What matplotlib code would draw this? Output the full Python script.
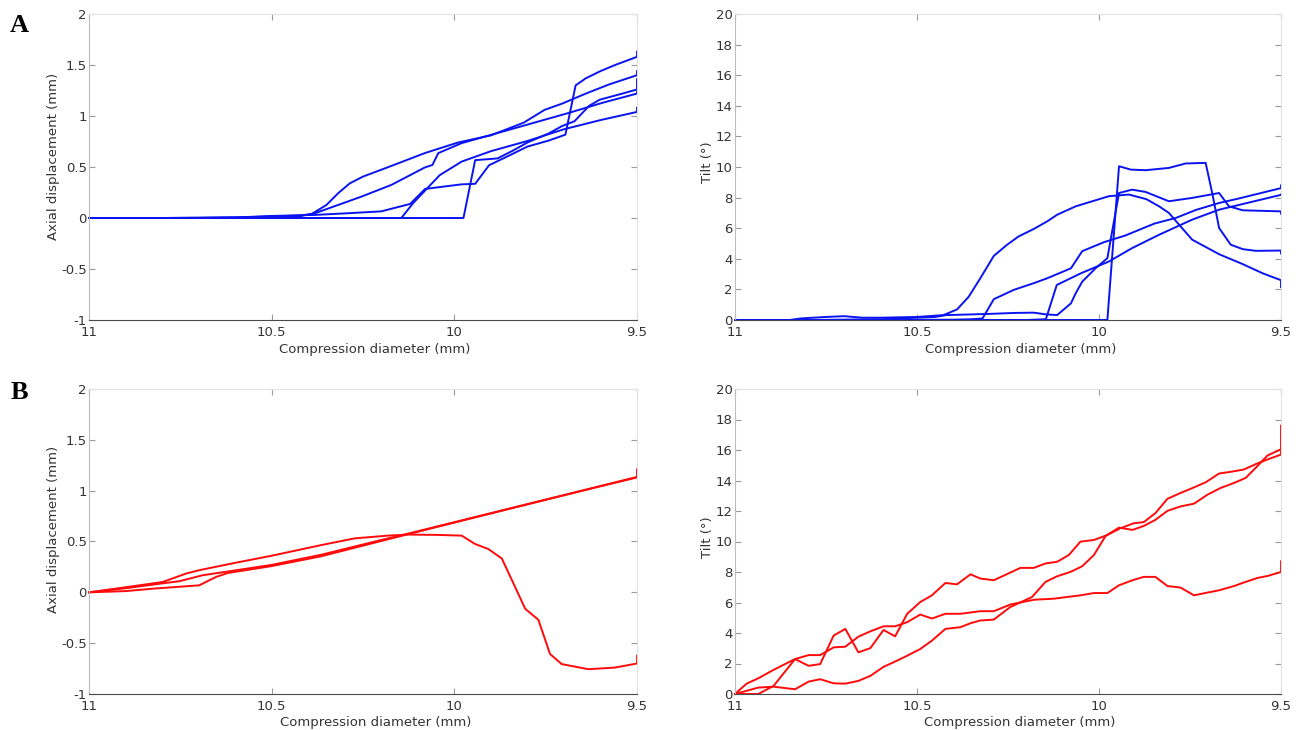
import matplotlib
matplotlib.use("Agg")
import matplotlib.pyplot as plt

# ---------------- data ----------------
x_ticks = [11, 10.5, 10, 9.5]
x_tick_labels = ["11", "10.5", "10", "9.5"]
ax_yticks = [-1, -0.5, 0, 0.5, 1, 1.5, 2]
ax_ytick_labels = ["-1", "-0.5", "0", "0.5", "1", "1.5", "2"]
tilt_yticks = [0, 2, 4, 6, 8, 10, 12, 14, 16, 18, 20]
tilt_ytick_labels = ["0", "2", "4", "6", "8", "10", "12", "14", "16", "18", "20"]

# Panel A - axial displacement (blue)
a1_x = [11.0, 10.8, 10.6, 10.5, 10.42, 10.39, 10.35, 10.318, 10.286, 10.25, 10.172, 10.081, 9.99, 9.9, 9.81, 9.753, 9.706, 9.64, 9.576, 9.5, 9.5]
a1_y = [0.0, 0.0, 0.005, 0.015, 0.025, 0.04, 0.128, 0.243, 0.34, 0.406, 0.511, 0.636, 0.74, 0.81, 0.935, 1.06, 1.12, 1.22, 1.31, 1.40, 1.44]
a2_x = [11.0, 10.7, 10.5, 10.42, 10.382, 10.254, 10.172, 10.081, 10.06, 10.044, 9.98, 9.855, 9.687, 9.594, 9.5, 9.5]
a2_y = [0.0, 0.0, 0.01, 0.02, 0.046, 0.21, 0.325, 0.495, 0.52, 0.636, 0.734, 0.86, 1.03, 1.13, 1.22, 1.24]
a3_x = [11.0, 10.8, 10.6, 10.5, 10.383, 10.3, 10.2, 10.121, 10.08, 9.98, 9.943, 9.905, 9.857, 9.80, 9.741, 9.696, 9.668, 9.64, 9.60, 9.56, 9.5, 9.5]
a3_y = [0.0, 0.0, 0.005, 0.02, 0.03, 0.045, 0.065, 0.138, 0.285, 0.33, 0.335, 0.517, 0.60, 0.70, 0.76, 0.817, 1.30, 1.37, 1.44, 1.50, 1.58, 1.63]
a4_x = [11.0, 10.6, 10.3, 10.145, 10.113, 10.04, 9.98, 9.9, 9.8, 9.7, 9.6, 9.5, 9.5]
a4_y = [0.0, 0.0, 0.0, 0.0, 0.145, 0.42, 0.553, 0.655, 0.755, 0.87, 0.96, 1.04, 1.08]
a5_x = [11.0, 10.6, 10.2, 9.975, 9.943, 9.882, 9.84, 9.80, 9.741, 9.706, 9.671, 9.631, 9.602, 9.55, 9.5, 9.5]
a5_y = [0.0, 0.0, 0.0, 0.0, 0.567, 0.584, 0.66, 0.74, 0.83, 0.90, 0.949, 1.10, 1.16, 1.21, 1.26, 1.36]

# Panel A - tilt (blue)
t1_x = [11.0, 10.85, 10.82, 10.75, 10.7, 10.65, 10.6, 10.5, 10.427, 10.39, 10.358, 10.326, 10.289, 10.253, 10.221, 10.18, 10.142, 10.115, 10.064, 9.973, 9.918, 9.87, 9.835, 9.808, 9.78, 9.744, 9.67, 9.605, 9.55, 9.5, 9.5]
t1_y = [0.0, 0.0, 0.1, 0.2, 0.25, 0.15, 0.15, 0.2, 0.32, 0.69, 1.52, 2.73, 4.19, 4.91, 5.46, 5.94, 6.45, 6.88, 7.43, 8.09, 8.2, 7.9, 7.43, 7.0, 6.23, 5.25, 4.3, 3.65, 3.05, 2.6, 2.15]
t2_x = [11.0, 10.6, 10.4, 10.35, 10.32, 10.289, 10.234, 10.18, 10.142, 10.077, 10.046, 9.986, 9.928, 9.848, 9.789, 9.733, 9.67, 9.618, 9.5, 9.5]
t2_y = [0.0, 0.0, 0.02, 0.05, 0.1, 1.36, 1.97, 2.4, 2.73, 3.38, 4.5, 5.09, 5.52, 6.3, 6.67, 7.2, 7.65, 7.93, 8.62, 8.8]
t3_x = [11.0, 10.6, 10.2, 10.146, 10.116, 10.05, 9.973, 9.909, 9.835, 9.744, 9.67, 9.5, 9.5]
t3_y = [0.0, 0.0, 0.0, 0.05, 2.29, 3.05, 3.82, 4.7, 5.57, 6.56, 7.21, 8.18, 8.2]
t4_x = [11.0, 10.5, 10.0, 9.977, 9.945, 9.913, 9.872, 9.808, 9.762, 9.707, 9.689, 9.67, 9.638, 9.605, 9.569, 9.5, 9.5]
t4_y = [0.0, 0.0, 0.0, 0.0, 10.05, 9.83, 9.79, 9.94, 10.23, 10.27, 8.3, 6.01, 4.92, 4.63, 4.52, 4.54, 4.35]
t5_x = [11.0, 10.8, 10.6, 10.45, 10.42, 10.3, 10.234, 10.18, 10.146, 10.115, 10.077, 10.064, 10.046, 10.009, 9.977, 9.945, 9.909, 9.872, 9.808, 9.744, 9.67, 9.643, 9.605, 9.5, 9.5]
t5_y = [0.0, 0.0, 0.05, 0.2, 0.32, 0.40, 0.46, 0.48, 0.37, 0.32, 1.09, 1.75, 2.51, 3.39, 4.04, 8.30, 8.52, 8.37, 7.76, 7.98, 8.3, 7.43, 7.17, 7.1, 6.95]

# Panel B - axial displacement (red)
r1_x = [11.0, 10.9, 10.798, 10.734, 10.698, 10.6, 10.5, 10.364, 10.2725, 10.181, 10.126, 10.05, 9.98, 9.943, 9.907, 9.87, 9.838, 9.806, 9.77, 9.738, 9.706, 9.633, 9.56, 9.5, 9.5]
r1_y = [0.0, 0.05, 0.102, 0.185, 0.218, 0.29, 0.36, 0.465, 0.531, 0.558, 0.568, 0.565, 0.558, 0.475, 0.426, 0.333, 0.086, -0.162, -0.27, -0.607, -0.706, -0.756, -0.74, -0.70, -0.624]
r2_x = [11.0, 10.9, 10.789, 10.753, 10.689, 10.62, 10.5, 10.364, 10.2, 10.126, 10.0, 9.8, 9.6, 9.5, 9.5]
r2_y = [0.0, 0.04, 0.093, 0.109, 0.168, 0.205, 0.27, 0.37, 0.515, 0.578, 0.69, 0.868, 1.046, 1.135, 1.21]
r3_x = [11.0, 10.9, 10.825, 10.698, 10.652, 10.62, 10.5, 10.364, 10.2, 10.126, 10.0, 9.8, 9.6, 9.5]
r3_y = [0.0, 0.012, 0.036, 0.069, 0.152, 0.19, 0.258, 0.355, 0.505, 0.572, 0.686, 0.865, 1.043, 1.13]

# Panel B - tilt (red)
s1_x = [11.0, 10.936, 10.894, 10.835, 10.798, 10.766, 10.729, 10.697, 10.661, 10.628, 10.592, 10.56, 10.527, 10.491, 10.459, 10.422, 10.39, 10.353, 10.326, 10.289, 10.243, 10.216, 10.179, 10.147, 10.115, 10.083, 10.051, 10.014, 9.977, 9.941, 9.904, 9.877, 9.845, 9.812, 9.776, 9.739, 9.707, 9.67, 9.638, 9.602, 9.565, 9.537, 9.5, 9.5]
s1_y = [0.0, 0.0, 0.53, 2.29, 1.85, 1.96, 3.83, 4.27, 2.73, 3.01, 4.2, 3.78, 5.26, 6.03, 6.47, 7.28, 7.19, 7.85, 7.57, 7.46, 7.97, 8.27, 8.27, 8.56, 8.67, 9.11, 9.99, 10.1, 10.43, 10.87, 11.2, 11.27, 11.86, 12.8, 13.18, 13.55, 13.88, 14.46, 14.57, 14.72, 15.12, 15.38, 15.7, 17.6]
s2_x = [11.0, 10.936, 10.894, 10.835, 10.798, 10.766, 10.729, 10.697, 10.661, 10.628, 10.592, 10.56, 10.527, 10.491, 10.459, 10.422, 10.381, 10.353, 10.326, 10.289, 10.244, 10.184, 10.147, 10.115, 10.078, 10.046, 10.014, 9.982, 9.945, 9.908, 9.877, 9.845, 9.812, 9.776, 9.739, 9.702, 9.666, 9.629, 9.597, 9.565, 9.537, 9.5]
s2_y = [0.0, 0.42, 0.48, 0.31, 0.81, 0.97, 0.70, 0.68, 0.86, 1.19, 1.78, 2.13, 2.51, 2.95, 3.5, 4.27, 4.38, 4.64, 4.82, 4.88, 5.7, 6.36, 7.35, 7.72, 8.01, 8.38, 9.11, 10.36, 10.91, 10.76, 11.02, 11.42, 12.01, 12.3, 12.48, 13.07, 13.51, 13.84, 14.17, 14.94, 15.64, 16.05]
s3_x = [11.0, 10.968, 10.936, 10.899, 10.867, 10.835, 10.798, 10.766, 10.729, 10.697, 10.661, 10.628, 10.592, 10.56, 10.527, 10.491, 10.459, 10.422, 10.381, 10.326, 10.289, 10.243, 10.179, 10.124, 10.088, 10.051, 10.014, 9.977, 9.945, 9.908, 9.877, 9.845, 9.812, 9.776, 9.739, 9.702, 9.67, 9.629, 9.602, 9.565, 9.537, 9.5, 9.5]
s3_y = [0.0, 0.68, 1.03, 1.52, 1.91, 2.29, 2.55, 2.55, 3.06, 3.10, 3.76, 4.11, 4.44, 4.44, 4.71, 5.21, 4.95, 5.26, 5.26, 5.43, 5.43, 5.87, 6.18, 6.25, 6.36, 6.47, 6.62, 6.62, 7.13, 7.46, 7.68, 7.68, 7.08, 6.98, 6.47, 6.65, 6.80, 7.08, 7.31, 7.61, 7.74, 8.0, 8.7]

BLUE = "#0a14f0"
RED = "#ff0a0a"
TXT = "#333333"

plt.rcParams["font.family"] = ["DejaVu Sans"]

fig = plt.figure(figsize=(13.08, 7.30), dpi=100)
W, H = 1308.0, 730.0

def make_axes(x0, x1, ytop, ybot):
    return fig.add_axes([x0 / W, 1 - ybot / H, (x1 - x0) / W, (ybot - ytop) / H])

ax_a1 = make_axes(89, 637, 14, 320)
ax_a2 = make_axes(735, 1281, 14, 320)
ax_b1 = make_axes(89, 637, 389, 694)
ax_b2 = make_axes(735, 1281, 389, 694)

def style(ax, ylim, yticks, ylabs, ylabel, ylab_xy, xlab_xy):
    ax.set_xlim(11, 9.5)
    ax.set_ylim(*ylim)
    ax.set_xticks(x_ticks)
    ax.set_xticklabels(x_tick_labels)
    ax.set_yticks(yticks)
    ax.set_yticklabels(ylabs)
    ax.tick_params(axis="both", direction="in", length=4, width=0.8,
                   color="#9a9a9a", labelsize=9.5, labelcolor=TXT,
                   top=True, right=True)
    ax.tick_params(axis="x", pad=4.5)
    ax.tick_params(axis="y", pad=1.5)
    ax.spines["bottom"].set_color("#4a4a4a")
    ax.spines["left"].set_color("#bdbdbd")
    ax.spines["top"].set_color("#e2e2e2")
    ax.spines["right"].set_color("#e2e2e2")
    for s in ax.spines.values():
        s.set_linewidth(0.8)
    ax.set_xlabel("Compression diameter (mm)", fontsize=9.5, color=TXT)
    ax.set_ylabel(ylabel, fontsize=9.5, color=TXT)
    ax.xaxis.set_label_coords(*xlab_xy)
    ax.xaxis.label.set_va("center")
    ax.yaxis.set_label_coords(*ylab_xy)
    ax.yaxis.label.set_va("center")
    ax.yaxis.label.set_ha("center")

lw = 1.4
for xs, ys in [(a1_x, a1_y), (a2_x, a2_y), (a3_x, a3_y), (a4_x, a4_y), (a5_x, a5_y)]:
    ax_a1.plot(xs, ys, color=BLUE, lw=lw, clip_on=False)
for xs, ys in [(t1_x, t1_y), (t2_x, t2_y), (t3_x, t3_y), (t4_x, t4_y), (t5_x, t5_y)]:
    ax_a2.plot(xs, ys, color=BLUE, lw=lw, clip_on=False)
for xs, ys in [(r1_x, r1_y), (r2_x, r2_y), (r3_x, r3_y)]:
    ax_b1.plot(xs, ys, color=RED, lw=lw, clip_on=False)
for xs, ys in [(s1_x, s1_y), (s2_x, s2_y), (s3_x, s3_y)]:
    ax_b2.plot(xs, ys, color=RED, lw=lw, clip_on=False)

style(ax_a1, (-1, 2), ax_yticks, ax_ytick_labels, "Axial displacement (mm)", (-0.064, 0.536), (0.522, -0.095))
style(ax_a2, (0, 20), tilt_yticks, tilt_ytick_labels, "Tilt (°)", (-0.051, 0.516), (0.524, -0.095))
style(ax_b1, (-1, 2), ax_yticks, ax_ytick_labels, "Axial displacement (mm)", (-0.064, 0.538), (0.524, -0.095))
style(ax_b2, (0, 20), tilt_yticks, tilt_ytick_labels, "Tilt (°)", (-0.051, 0.515), (0.522, -0.095))

fig.text(19 / W, 1 - 26 / H, "A", fontsize=19, fontweight="bold",
         family=["Liberation Serif", "DejaVu Serif"], ha="center", va="center", color="black")
fig.text(19 / W, 1 - 393 / H, "B", fontsize=19, fontweight="bold",
         family=["Liberation Serif", "DejaVu Serif"], ha="center", va="center", color="black")

fig.savefig("out.png", dpi=100)
